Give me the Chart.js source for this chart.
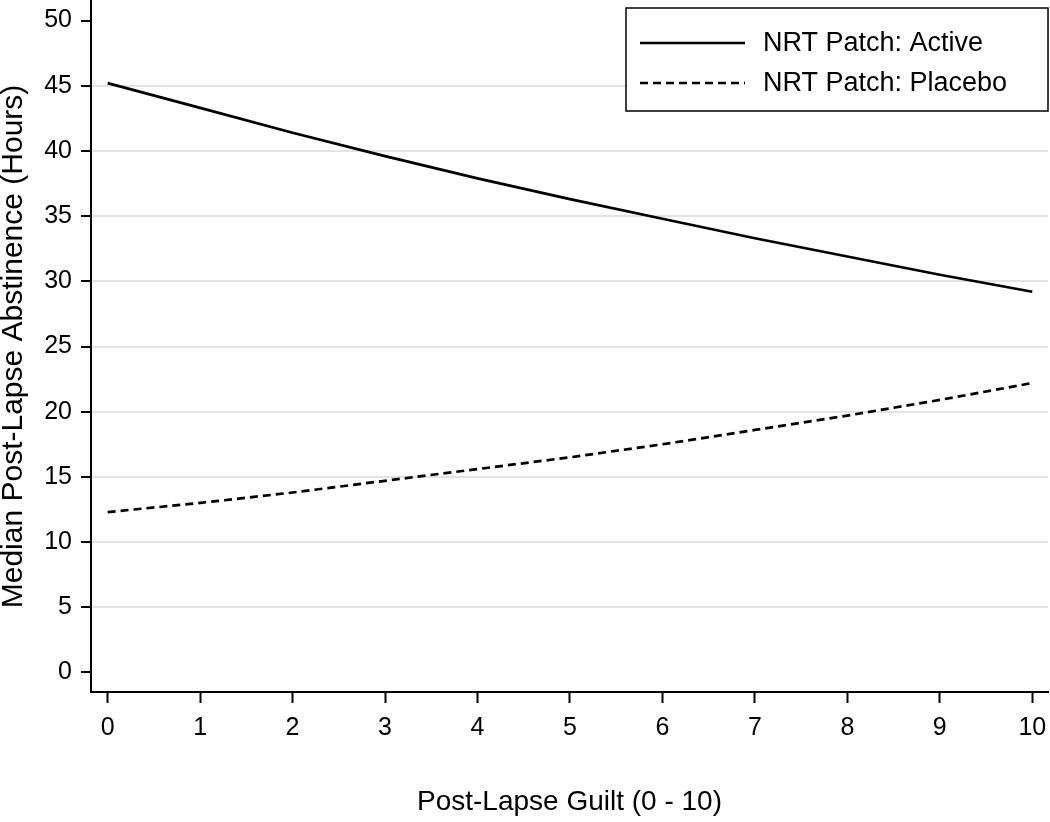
<!DOCTYPE html>
<html>
<head>
<meta charset="utf-8">
<script src="https://cdn.jsdelivr.net/npm/chart.js@4"></script>
<style>
  body { margin: 0; background: #fff; }
  #wrap { width: 1050px; height: 822px; }
</style>
</head>
<body>
<div id="wrap"><canvas id="c"></canvas></div>
<script>
// data
const guilt = [0, 1, 2, 3, 4, 5, 6, 7, 8, 9, 10];
const activeHours = [45.2, 43.3, 41.4, 39.6, 37.9, 36.3, 34.8, 33.3, 31.9, 30.5, 29.2];
const placeboHours = [12.3, 13.0, 13.8, 14.7, 15.6, 16.5, 17.5, 18.6, 19.7, 20.9, 22.2];
const yTicks = [0, 5, 10, 15, 20, 25, 30, 35, 40, 45, 50];
const xTicks = [0, 1, 2, 3, 4, 5, 6, 7, 8, 9, 10];

const FONT = 'Liberation Sans, Arial, Helvetica, sans-serif';

function toPoints(xs, ys) {
    return xs.map(function(x, i) {
        return { x: x, y: ys[i] };
    });
}

// legend with a box round it, drawn inside the plot at the top right
const boxedLegend = {
    id: 'boxedLegend',
    afterDraw: function(chart) {
        const ctx = chart.ctx;
        const area = chart.chartArea;
        const right = area.right;
        const left = right - 422;
        const top = 8;
        ctx.save();
        ctx.strokeStyle = '#000';
        ctx.lineWidth = 1.5;
        ctx.fillStyle = '#fff';
        ctx.fillRect(left, top, 422, 103);
        ctx.strokeRect(left, top, 422, 103);
        chart.data.datasets.forEach(function(ds, i) {
            const y = 43 + i * 40;
            ctx.beginPath();
            ctx.setLineDash(ds.borderDash || []);
            ctx.lineWidth = ds.borderWidth;
            ctx.strokeStyle = ds.borderColor;
            ctx.moveTo(left + 14, y);
            ctx.lineTo(left + 119, y);
            ctx.stroke();
            ctx.setLineDash([]);
            ctx.fillStyle = '#000';
            ctx.font = '27px ' + FONT;
            ctx.textBaseline = 'middle';
            ctx.textAlign = 'left';
            ctx.fillText(ds.label, left + 137, y + 1);
        });
        ctx.restore();
    }
};

const config = {
    type: 'line',
    data: {
        datasets: [
            {
                label: 'NRT Patch: Active',
                data: toPoints(guilt, activeHours),
                borderColor: '#000',
                borderWidth: 2.7,
                pointRadius: 0,
                fill: false,
            },
            {
                label: 'NRT Patch: Placebo',
                data: toPoints(guilt, placeboHours),
                borderColor: '#000',
                borderWidth: 2.7,
                borderDash: [8, 5],
                pointRadius: 0,
                fill: false,
            }
        ]
    },
    options: {
        responsive: true,
        maintainAspectRatio: false,
        animation: false,
        layout: {
            padding: { top: 1, right: 2, left: 0, bottom: 0 }
        },
        plugins: {
            legend: { display: false },
            tooltip: { enabled: false }
        },
        scales: {
            x: {
                type: 'linear',
                min: -0.18,
                max: 10.17,
                afterBuildTicks: function(axis) {
                    axis.ticks = xTicks.map(function(v) { return { value: v }; });
                },
                afterFit: function(axis) {
                    axis.height = 130;
                    axis.paddingLeft = 0;
                    axis.paddingRight = 0;
                },
                border: { color: '#000', width: 2 },
                grid: {
                    drawOnChartArea: false,
                    tickLength: 11,
                    tickColor: '#000',
                    tickWidth: 2,
                },
                ticks: {
                    color: '#000',
                    padding: 10,
                    maxRotation: 0,
                    font: { family: FONT, size: 25 }
                },
                title: {
                    display: true,
                    text: 'Post-Lapse Guilt (0 - 10)',
                    color: '#000',
                    padding: { top: 0, bottom: 3 },
                    font: { family: FONT, size: 28 }
                }
            },
            y: {
                type: 'linear',
                min: -1.5,
                max: 51.5,
                afterBuildTicks: function(axis) {
                    axis.ticks = yTicks.map(function(v) { return { value: v }; });
                },
                afterFit: function(axis) {
                    axis.width = 91;
                    axis.paddingTop = 0;
                    axis.paddingBottom = 0;
                },
                border: { color: '#000', width: 2 },
                grid: {
                    color: function(c) {
                        const v = c.tick && c.tick.value;
                        return (v > 0 && v < 50) ? '#e3e3e3' : 'rgba(0,0,0,0)';
                    },
                    lineWidth: 2,
                    tickLength: 10,
                    tickColor: '#000',
                    tickWidth: 2,
                },
                ticks: {
                    color: '#000',
                    padding: 9,
                    font: { family: FONT, size: 25 }
                },
                title: {
                    display: true,
                    text: 'Median Post-Lapse Abstinence (Hours)',
                    color: '#000',
                    padding: { top: 2, bottom: 0 },
                    font: { family: FONT, size: 30, lineHeight: 0.8 }
                }
            }
        }
    },
    plugins: [boxedLegend]
};

let chartInstance = new Chart(document.getElementById('c').getContext('2d'), config);
</script>
</body>
</html>
